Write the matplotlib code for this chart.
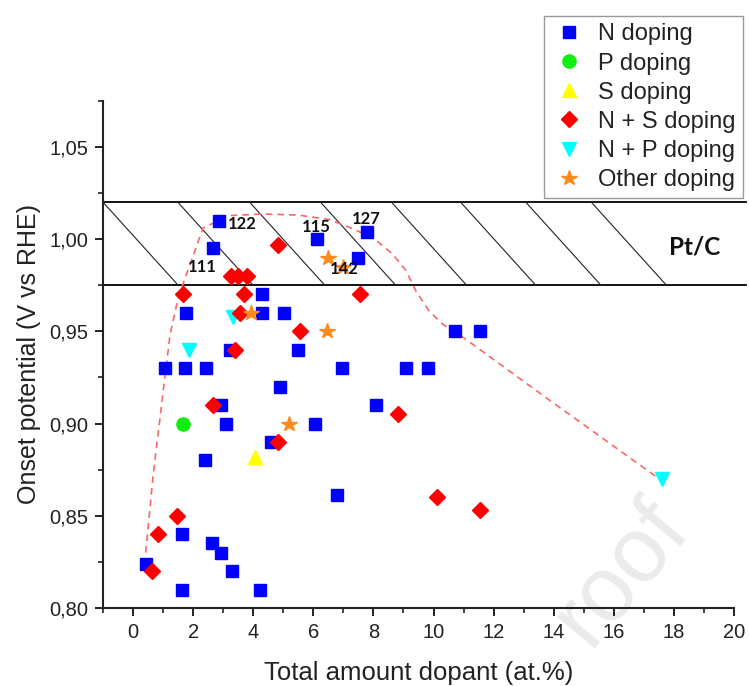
import numpy as np
import matplotlib
matplotlib.use("Agg")
import matplotlib.pyplot as plt
from matplotlib.ticker import MultipleLocator, FuncFormatter

plt.rcParams['font.family'] = ['Liberation Sans', 'DejaVu Sans']

# ---------------- data ----------------
n_x = [0.42, 1.64, 1.64, 2.64, 2.94, 3.30, 4.24, 1.06, 1.72, 2.44, 1.77, 2.86,
       2.66, 2.92, 3.08, 2.41, 3.22, 4.30, 4.30, 5.04, 4.58, 4.88, 5.50, 6.13,
       6.06, 6.94, 6.78, 7.50, 7.77, 8.10, 9.08, 9.83, 10.70, 11.53]
n_y = [0.824, 0.810, 0.840, 0.835, 0.830, 0.820, 0.810, 0.930, 0.930, 0.930, 0.960, 1.010,
       0.995, 0.910, 0.900, 0.880, 0.940, 0.970, 0.960, 0.960, 0.890, 0.920, 0.940, 1.000,
       0.900, 0.930, 0.861, 0.990, 1.004, 0.910, 0.930, 0.930, 0.950, 0.950]

p_x = [1.65]
p_y = [0.900]

s_x = [4.05]
s_y = [0.882]

ns_x = [0.64, 0.84, 1.45, 1.65, 2.66, 3.40, 3.25, 3.50, 3.80, 3.68, 3.55, 4.84,
        5.54, 4.84, 7.56, 8.82, 10.13, 11.54]
ns_y = [0.820, 0.840, 0.850, 0.970, 0.910, 0.940, 0.980, 0.980, 0.980, 0.970, 0.960, 0.997,
        0.950, 0.890, 0.970, 0.905, 0.860, 0.853]

np_x = [1.86, 3.33, 17.60]
np_y = [0.940, 0.958, 0.870]

oth_x = [3.92, 5.20, 6.45, 6.49, 7.00]
oth_y = [0.960, 0.900, 0.950, 0.990, 0.985]

trend_x = [0.42, 0.67, 1.00, 1.23, 1.50, 1.78, 2.33, 3.20, 4.30, 5.50, 6.53, 7.20,
           7.97, 8.63, 9.08, 9.41, 9.85, 10.29, 10.96, 14.00, 17.60]
trend_y = [0.830, 0.872, 0.917, 0.948, 0.968, 0.981, 1.006, 1.0127, 1.0136, 1.013, 1.0106, 1.0063,
           1.0009, 0.992, 0.983, 0.972, 0.961, 0.954, 0.947, 0.911, 0.869]

ref_labels = ["122", "111", "115", "127", "142"]
ref_x = [3.15, 2.32, 6.10, 7.76, 7.03]
ref_y = [1.008, 0.985, 1.0067, 1.011, 0.984]

ptc_low, ptc_high = 0.975, 1.02

x_ticks = list(range(0, 21, 2))
y_ticks = [0.80, 0.85, 0.90, 0.95, 1.00, 1.05]

# ---------------- figure ----------------
fig = plt.figure(figsize=(7.49, 6.86), dpi=100)

# watermark (behind everything)
fig.text(0.83, 0.165, "roof", fontsize=66, color='#ebebeb', rotation=50,
         ha='center', va='center', zorder=-5)

ax = fig.add_axes([0.1375, 0.1137, 0.98 - 0.1375, 0.8532 - 0.1137])
ax.patch.set_alpha(0)
ax.set_xlim(-1, 20)
ax.set_ylim(0.80, 1.075)

# Pt/C hatched band
ax.plot([-1, 20.4], [ptc_high, ptc_high], color='black', lw=1.3, clip_on=False, zorder=2)
ax.plot([-1, 20.4], [ptc_low, ptc_low], color='black', lw=1.3, clip_on=False, zorder=2)
hatch_tops = [-1.0, 1.49, 3.88, 6.24, 8.60, 10.90, 13.07, 15.25]
for t in hatch_tops:
    ax.plot([t, t + 2.5], [ptc_high, ptc_low], color='#222222', lw=0.8, zorder=2)
ax.text(18.69, 0.9955, "Pt/C", fontsize=17.5, fontweight='bold', family=['Lato', 'DejaVu Sans'],
        ha='center', va='center', color='#111111', zorder=3)

# trend line
ax.plot(trend_x, trend_y, color='#ff6666', lw=1.2, ls=(0, (4, 3)), zorder=3)

# series
ax.plot(n_x, n_y, ls='none', marker='s', ms=8.3, color='#0000ff', mec='#0000ff', label='N doping', zorder=4)
ax.plot(p_x, p_y, ls='none', marker='o', ms=9.5, color='#11ee11', mec='#11ee11', label='P doping', zorder=4)
ax.plot(s_x, s_y, ls='none', marker='^', ms=10, color='#ffff00', mec='#ffff00', label='S doping', zorder=4)
ax.plot(ns_x, ns_y, ls='none', marker='D', ms=7.8, color='#ff0000', mec='#ff0000', label='N + S doping', zorder=5)
ax.plot(np_x, np_y, ls='none', marker='v', ms=10, color='#00ffff', mec='#00ffff', label='N + P doping', zorder=4)
ax.plot(oth_x, oth_y, ls='none', marker='*', ms=11.5, color='#ff8a1e', mec='#ff8a1e', label='Other doping', zorder=5)

for lab, lx, ly in zip(ref_labels, ref_x, ref_y):
    ha = 'left' if lab == "122" else 'center'
    ax.text(lx, ly, lab, fontsize=12, fontweight='bold', family=['Lato', 'DejaVu Sans'],
            ha=ha, va='center', color='#111111', zorder=6)

# axes styling
for side in ['top', 'right']:
    ax.spines[side].set_visible(False)
for side in ['left', 'bottom']:
    ax.spines[side].set_linewidth(1.5)
    ax.spines[side].set_color('#222222')

ax.set_xticks(x_ticks)
ax.set_yticks(y_ticks)
ax.xaxis.set_minor_locator(MultipleLocator(1))
ax.yaxis.set_minor_locator(MultipleLocator(0.025))
ax.yaxis.set_major_formatter(FuncFormatter(lambda v, p: f"{v:.2f}".replace('.', ',')))
ax.tick_params(which='major', direction='out', length=5.5, width=1.4, labelsize=14.5,
               colors='#222222', pad=5)
ax.tick_params(which='minor', direction='out', length=3.5, width=1.2, colors='#222222')

ax.set_xlabel("Total amount dopant (at.%)", fontsize=18.5, color='#222222', labelpad=14)
ax.set_ylabel("Onset potential (V vs RHE)", fontsize=18, color='#222222', labelpad=6)

leg = fig.legend(loc='upper right', bbox_to_anchor=(0.998, 0.983), fontsize=17,
                 frameon=True, fancybox=False, edgecolor='#999999', framealpha=1,
                 handletextpad=0.5, borderpad=0.3, labelspacing=0.3, handlelength=1.5,
                 borderaxespad=0.2, numpoints=1)
leg.get_frame().set_linewidth(1.0)
for t in leg.get_texts():
    t.set_color('#222222')

fig.savefig("out.png", dpi=100)
